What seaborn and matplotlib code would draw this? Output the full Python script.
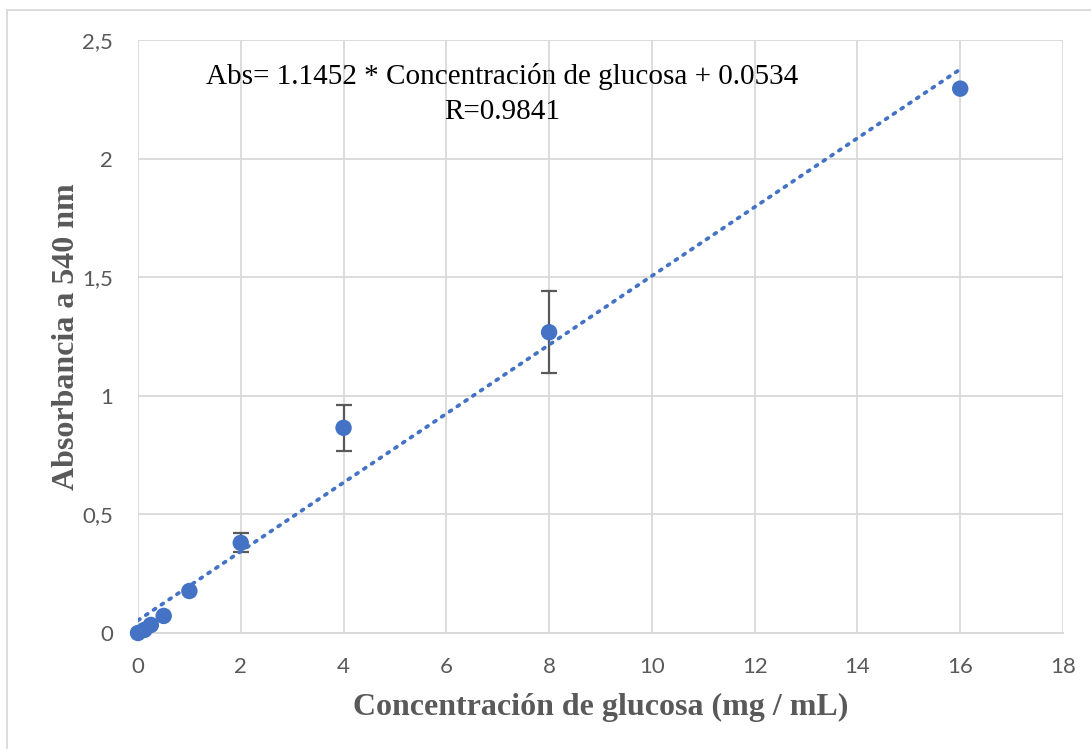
import matplotlib
matplotlib.use("Agg")
import matplotlib.pyplot as plt
import seaborn as sns
import pandas as pd
import numpy as np
from matplotlib.patches import Rectangle

# Data
concentracion = [0, 0.125, 0.25, 0.5, 1, 2, 4, 8, 16]
absorbancia = [0.0, 0.013, 0.034, 0.072, 0.177, 0.38, 0.865, 1.268, 2.295]
error = [0.0, 0.0, 0.0, 0.0, 0.0, 0.04, 0.097, 0.172, 0.0]
pendiente = 0.1452
intercepto = 0.0534
x_ticks = [0, 2, 4, 6, 8, 10, 12, 14, 16, 18]
y_ticks = [0, 0.5, 1, 1.5, 2, 2.5]
y_tick_labels = ["0", "0,5", "1", "1,5", "2", "2,5"]

sns.set_theme(style="white")
plt.rcParams['font.family'] = ['Lato', 'DejaVu Sans']

blue = "#4472C4"
grey_text = "#595959"
grid_c = "#D9D9D9"

fig = plt.figure(figsize=(10.91, 7.49), dpi=100)
ax = fig.add_axes([138/1091, 1-633/749, (1063-138)/1091, (633-40)/749])

# outer chart border
fig.patches.append(Rectangle((7/1091, -0.05), 1.1, 1-10/749+0.05, transform=fig.transFigure,
                             fill=False, edgecolor=grid_c, linewidth=1.3, zorder=0))

df = pd.DataFrame({"x": concentracion, "y": absorbancia, "err": error})

# trendline
trend_x = [concentracion[0], concentracion[-1]]
trend_df = pd.DataFrame({"x": trend_x, "y": [pendiente * v + intercepto for v in trend_x]})
sns.lineplot(data=trend_df, x="x", y="y", ax=ax, color=blue, linewidth=2.7,
             linestyle=(0, (0.6, 1.9)), dash_capstyle="round", zorder=3)

# error bars
eb = df[df["err"] > 0]
ax.errorbar(eb["x"], eb["y"], yerr=eb["err"], fmt="none", ecolor=grey_text,
            elinewidth=1.6, capsize=6, capthick=1.6, zorder=2)

sns.scatterplot(data=df, x="x", y="y", ax=ax, color=blue, s=140, edgecolor="none",
                zorder=4, clip_on=False)

ax.set_xlim(0, 18)
ax.set_ylim(0, 2.5)
ax.set_xticks(x_ticks)
ax.set_yticks(y_ticks)
ax.set_yticklabels(y_tick_labels)
ax.grid(True, color=grid_c, linewidth=1.3)
ax.set_axisbelow(True)
for s in ["top", "right", "left"]:
    ax.spines[s].set_visible(False)
ax.spines["bottom"].set_color(grid_c)
ax.spines["bottom"].set_linewidth(1.3)
ax.tick_params(axis="both", length=0, labelsize=16, labelcolor=grey_text)
ax.tick_params(axis="x", pad=17)
ax.tick_params(axis="y", pad=18)

ax.set_xlabel("Concentración de glucosa (mg / mL)", family="Liberation Serif",
              fontweight="bold", fontsize=23, color=grey_text, labelpad=12)
ax.set_ylabel("Absorbancia a 540 nm", family="Liberation Serif",
              fontweight="bold", fontsize=23, color=grey_text, labelpad=1)

fig.text(502/1091, 1-77/749, "Abs= 1.1452 * Concentración de glucosa + 0.0534",
         family="Liberation Serif", fontsize=21, color="black", ha="center", va="center")
fig.text(502/1091, 1-112/749, "R=0.9841",
         family="Liberation Serif", fontsize=21, color="black", ha="center", va="center")

fig.savefig("out.png", dpi=100, facecolor="white")
